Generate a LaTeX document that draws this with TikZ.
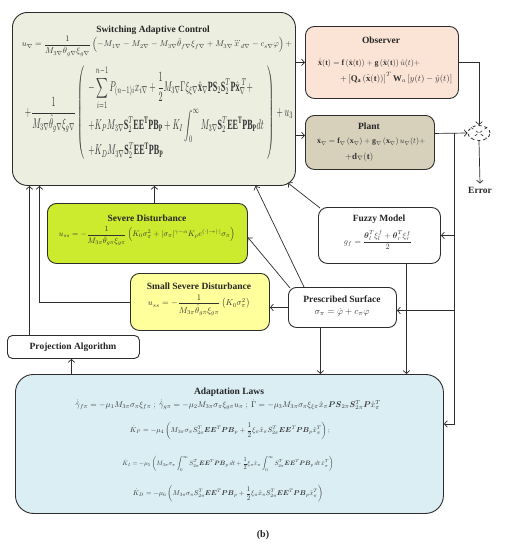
\documentclass[tikz,border=0pt]{standalone}
\usepackage{amsmath,amssymb}
\usepackage{graphicx}
\usepackage{fontspec}
\setmainfont{Liberation Serif}
\usetikzlibrary{arrows.meta,calc,shapes.geometric}

\definecolor{sacfill}{RGB}{236,239,224}
\definecolor{obsfill}{RGB}{251,228,214}
\definecolor{plantfill}{RGB}{215,209,188}
\definecolor{sdfill}{RGB}{204,234,46}
\definecolor{sssfill}{RGB}{255,255,155}
\definecolor{adfill}{RGB}{219,238,244}
\definecolor{edge}{RGB}{45,45,45}
\newcommand{\fitw}[2]{\resizebox{#1}{!}{$\displaystyle #2$}}

\begin{document}
\begin{tikzpicture}[x=1pt,y=-1pt,
  box/.style={draw=edge,line width=0.9pt,rounded corners=#1,anchor=north west,inner sep=0pt},
  box/.default=8pt,
  ttl/.style={font=\rmfamily\fontsize{9.5}{10}\selectfont\bfseries,inner sep=0pt,text=black!85},
  eq/.style={inner sep=0pt,text=black!80},
  arr/.style={draw=edge,line width=0.7pt,-{Straight Barb[length=3pt,width=6.5pt]}},
  ln/.style={draw=edge,line width=0.7pt}]

\fill[white] (0,0) rectangle (506,550);
\useasboundingbox (0,0) rectangle (506,550);

% boxes
\node[box=15pt,fill=sacfill,minimum width=283pt,minimum height=173pt] (sac) at (12,12) {};
\node[box=9pt,fill=obsfill,minimum width=153pt,minimum height=72pt] (obs) at (305,26) {};
\node[box=9pt,fill=plantfill,minimum width=129pt,minimum height=54pt] (plant) at (305,115) {};
\node[box=9pt,fill=white,minimum width=122pt,minimum height=56pt] (fuzzy) at (318,207) {};
\node[box=9pt,fill=sdfill,minimum width=200pt,minimum height=60pt] (sd) at (47,203) {};
\node[box=9pt,fill=sssfill,minimum width=139pt,minimum height=57pt] (sss) at (130,273) {};
\node[box=8pt,fill=white,minimum width=108pt,minimum height=40pt] (ps) at (288,287) {};
\node[box=5pt,fill=white,minimum width=132pt,minimum height=23pt] (proj) at (7,335) {};
\node[box=18pt,fill=adfill,minimum width=428pt,minimum height=139pt] (ad) at (15,374) {};
\node[ellipse,draw=edge,dashed,line width=0.8pt,minimum width=22pt,minimum height=15pt,inner sep=0pt] (err) at (479,133) {};
\draw[draw=edge,dashed,line width=0.6pt] (err.north west) -- (err.south east) (err.north east) -- (err.south west);

% titles
\node[ttl] (sacT) at (153,30) {Switching Adaptive Control};
\node[ttl] (obsT) at (381,40) {Observer};
\node[ttl] (plantT) at (369,126) {Plant};
\node[ttl] (fuzT) at (379,219) {Fuzzy Model};
\node[ttl] (sdT) at (147,218) {Severe Disturbance};
\node[ttl] (sssT) at (199,286) {Small Severe Disturbance};
\node[ttl] (psT) at (342,299) {Prescribed Surface};
\node[ttl] (projT) at (73,347) {Projection Algorithm};
\node[ttl] (adT) at (229,392) {Adaptation Laws};
\node[ttl] (errT) at (480,190) {Error};
\node[ttl,font=\rmfamily\fontsize{10}{12}\selectfont\bfseries] (cap) at (263,535) {(b)};

% equations
\node[eq] (sac1) at (157,46) {\fitw{270pt}{u_\nabla=\frac{1}{M_{3\nabla}\hat\theta_{g\nabla}\xi_{g\nabla}}\left(-M_{1\nabla}-M_{2\nabla}-M_{3\nabla}\hat\theta_{f\nabla}\xi_{f\nabla}+M_{3\nabla}\dddot{x}_{d\nabla}-c_{s\nabla}\varphi\right)+}};
\node[eq] (sac2) at (159,113) {\resizebox*{268pt}{94pt}{$\displaystyle +\frac{1}{M_{3\nabla}\hat\theta_{g\nabla}\xi_{g\nabla}}\left(\begin{array}{l}
\displaystyle -\sum_{i=1}^{n-1}P_{(n-1)i}x_{i\nabla}+\frac12 M_{3\nabla}\Gamma\xi_{\xi\nabla}\hat{\mathbf{x}}_\nabla\mathbf{P}\mathbf{S}_2\mathbf{S}_2^T\mathbf{P}\hat{\mathbf{x}}_\nabla^{\ T}+\\[4pt]
\displaystyle +K_PM_{3\nabla}\mathbf{S}_2^T\mathbf{E}\mathbf{E}^{\mathbf{T}}\mathbf{P}\mathbf{B}_{\mathbf{P}}+K_I\int_0^\infty M_{3\nabla}\mathbf{S}_2^T\mathbf{E}\mathbf{E}^{\mathbf{T}}\mathbf{P}\mathbf{B}_{\mathbf{P}}dt\\[4pt]
\displaystyle +K_DM_{3\nabla}\mathbf{S}_2^T\mathbf{E}\mathbf{E}^{\mathbf{T}}\mathbf{P}\mathbf{B}_{\mathbf{P}}
\end{array}\right)+u_3$}};

\node[eq,anchor=west] (obs1) at (318,63) {\fitw{102pt}{\dot{\hat{\mathbf{x}}}(\mathbf{t})=\mathbf{f}\left(\hat{\mathbf{x}}(\mathbf{t})\right)+\mathbf{g}\left(\hat{\mathbf{x}}(\mathbf{t})\right)\hat{u}(t)+}};
\node[eq,anchor=west] (obs2) at (340,78) {\fitw{112pt}{+\left[\mathbf{Q}_{\mathbf{a}}\left(\hat{\mathbf{x}}(\mathbf{t})\right)\right]^T\mathbf{W}_a\left[y(t)-\hat{y}(t)\right]}};

\node[eq,anchor=west] (pl1) at (317,142) {\fitw{108pt}{\dot{\mathbf{x}}_\nabla=\mathbf{f}_\nabla\left(\mathbf{x}_\nabla\right)+\mathbf{g}_\nabla\left(\mathbf{x}_\nabla\right)u_\nabla(t)+}};
\node[eq,anchor=west] (pl2) at (345,157) {\fitw{28pt}{+\mathbf{d}_\nabla(\mathbf{t})}};

\node[eq] (fz1) at (378,240) {\fitw{68pt}{g_f=\frac{\boldsymbol{\theta}_l^T\xi_l^f+\boldsymbol{\theta}_r^T\xi_r^f}{2}}};
\node[eq] (ps1) at (342,312) {\fitw{55pt}{\sigma_\pi=\dot\varphi+c_\pi\varphi}};

\node[eq] (sd1) at (147,236) {\fitw{176pt}{u_{ss}=-\frac{1}{M_{3\pi}\hat\theta_{g\pi}\xi_{g\pi}}\left(K_0\sigma_\pi^2+|\sigma_\pi|^{\gamma-\alpha}K_\rho e^{(\cdot)\to|\cdot|}\sigma_\pi\right)}};
\node[eq] (sss1) at (199,305) {\fitw{102pt}{u_{ss}=-\frac{1}{M_{3\pi}\hat\theta_{g\pi}\xi_{g\pi}}\left(K_0\sigma_\pi^2\right)}};

\node[eq] (ad1) at (228,405) {\fitw{305pt}{\dot{\hat\gamma}_{f\pi}=-\mu_1M_{3\pi}\sigma_\pi\xi_{f\pi}\ ;\ \dot{\hat\gamma}_{g\pi}=-\mu_2M_{3\pi}\sigma_\pi\xi_{g\pi}u_\pi\ ;\ \dot\Gamma=-\mu_3M_{3\pi}\sigma_\pi\xi_{\xi\pi}\hat{x}_\pi\boldsymbol{P}\boldsymbol{S}_{2\pi}\boldsymbol{S}_{2\pi}^T\boldsymbol{P}\hat{x}_\pi^T}};
\node[eq] (ad2) at (230,431) {\fitw{200pt}{\dot K_P=-\mu_4\left(M_{3\pi}\sigma_\pi S_{2\pi}^T\boldsymbol{EE}^T\boldsymbol{PB}_p+\frac12\xi_\pi\hat x_\pi S_{2\pi}^T\boldsymbol{EE}^T\boldsymbol{PB}_p\hat x_\pi^T\right);}};
\node[eq] (ad3) at (228,464) {\fitw{211pt}{\dot K_I=-\mu_5\left(M_{3\pi}\sigma_\pi\int_0^\infty S_{2\pi}^T\boldsymbol{EE}^T\boldsymbol{PB}_p\,dt+\frac12\xi_\pi\hat x_\pi\int_0^\infty S_{2\pi}^T\boldsymbol{EE}^T\boldsymbol{PB}_p\,dt\,\hat x_\pi^T\right)}};
\node[eq] (ad4) at (228,494) {\fitw{190pt}{\dot K_D=-\mu_6\left(M_{3\pi}\sigma_\pi S_{2\pi}^T\boldsymbol{EE}^T\boldsymbol{PB}_p+\frac12\xi_\pi\hat x_\pi S_{2\pi}^T\boldsymbol{EE}^T\boldsymbol{PB}_p\hat x_\pi^T\right)}};

% connectors
\coordinate (br) at (454,133);
\coordinate (plout) at ([yshift=9pt]plant.east);
\coordinate (plin) at ([yshift=7pt]plant.west);
\coordinate (psin) at ([yshift=-3pt]ps.east);
\coordinate (fzo) at ([xshift=27pt]fuzzy.south);
\coordinate (pso) at ([xshift=-22pt]ps.south);
\coordinate (sdo) at ([xshift=7pt]sd.north);
\coordinate (sssl) at ($(sac.south)+(-114.5,0)$);
\coordinate (pjo) at ([xshift=-44pt]proj.north);
\coordinate (pji) at ([xshift=-2pt]proj.south);

\draw[arr] (sac.east |- obs.west) -- (obs.west);
\draw[arr] (sac.east |- plin) -- (plin);
\draw[arr] (obs.east) -| (err.north);
\draw[arr] (plout) -- (err.west);
\draw[arr] (err.south) -- ([yshift=3pt]errT.north);
\draw[arr] (br) |- ([yshift=20pt]ad.east);
\draw[arr] (br |- fuzzy.east) -- (fuzzy.east);
\draw[arr] (br |- psin) -- (psin);
\draw[arr] ($(fuzzy.north west)+(2,1)$) -- ($(sac.south east)+(-8,-3)$);
\draw[arr] (fzo) -- (fzo |- ad.north);
\draw[arr] (pso) -- (pso |- ad.north);
\draw[arr] (ps.west) -- (ps.west -| sss.east);
\draw[arr] ($(ps.north west)+(2,1)$) -- ($(sd.east)+(0,4)$);
\draw[arr] ($(ps.north west)+(16,0)$) -- ($(sac.south)+(101.5,0)$);
\draw[arr] (sdo) -- (sdo |- sac.south);
\draw[arr] (sss.west) -| (sssl);
\draw[arr] (pjo) -- (pjo |- sac.south);
\draw[arr] (pji |- ad.north) -- (pji);
\end{tikzpicture}
\end{document}
